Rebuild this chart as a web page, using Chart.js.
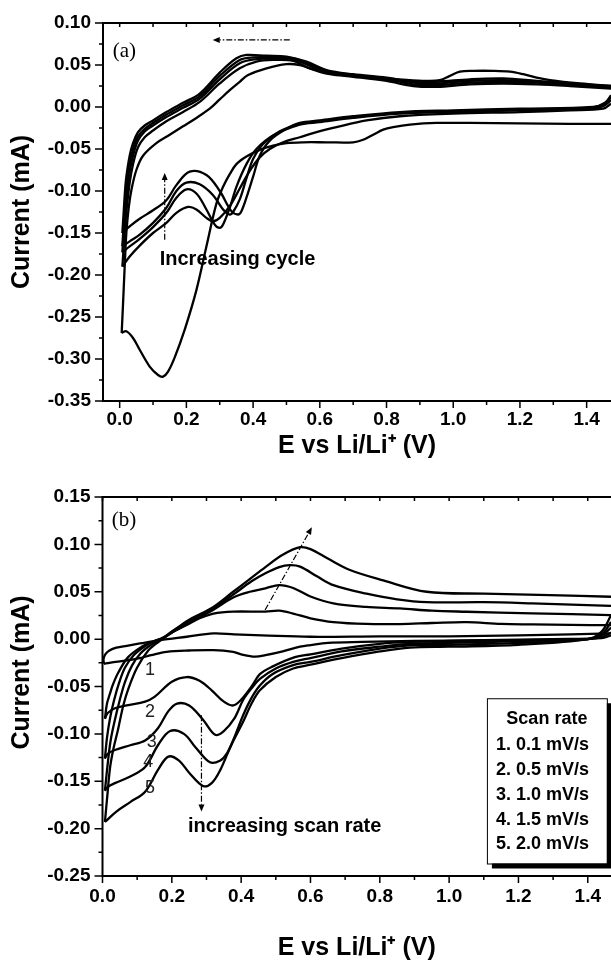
<!DOCTYPE html>
<html>
<head>
<meta charset="utf-8">
<script src="https://cdn.jsdelivr.net/npm/chart.js@4.4.1/dist/chart.umd.min.js"></script>
<style>
  html, body { margin: 0; padding: 0; background: #fff; overflow: hidden; }
  #panelA { position: absolute; left: 0; top: 0; }
  #panelB { position: absolute; left: 0; top: 470px; }
</style>
</head>
<body>
<canvas id="panelA" width="611" height="470"></canvas>
<canvas id="panelB" width="611" height="491"></canvas>
<script>
// ---------------- Panel (a): repeated cycling, [E (V), I (mA)] ----------------
const xTicksA = [0.0, 0.2, 0.4, 0.6, 0.8, 1.0, 1.2, 1.4];
const yTicksA = [-0.35, -0.30, -0.25, -0.20, -0.15, -0.10, -0.05, 0.00, 0.05, 0.10];

// cycle 1
const cyc1Red = [[1.473,-0.020],[1.35,-0.020],[1.2,-0.0195],[1.05,-0.019],[0.95,-0.019],[0.87,-0.021],[0.82,-0.024],[0.79,-0.027],[0.76,-0.033],[0.73,-0.039],[0.70,-0.042],[0.62,-0.042],[0.55,-0.042],[0.50,-0.043],[0.46,-0.046],[0.42,-0.051],[0.38,-0.059],[0.35,-0.068],[0.33,-0.080],[0.31,-0.095],[0.29,-0.115],[0.26,-0.166],[0.23,-0.218],[0.195,-0.265],[0.165,-0.298],[0.145,-0.315],[0.13,-0.321],[0.115,-0.319],[0.09,-0.309],[0.06,-0.289],[0.04,-0.275],[0.02,-0.267],[0.006,-0.269]];
const cyc1Ox = [[0.006,-0.269],[0.010,-0.235],[0.015,-0.190],[0.020,-0.150],[0.027,-0.120],[0.035,-0.099],[0.05,-0.075],[0.07,-0.058],[0.11,-0.043],[0.15,-0.033],[0.19,-0.023],[0.23,-0.013],[0.27,-0.002],[0.30,0.009],[0.33,0.020],[0.36,0.030],[0.385,0.038],[0.44,0.046],[0.50,0.051],[0.54,0.050],[0.57,0.046],[0.64,0.040],[0.70,0.037],[0.80,0.034],[0.87,0.032],[0.93,0.031],[0.96,0.032],[0.99,0.037],[1.02,0.042],[1.06,0.043],[1.12,0.043],[1.17,0.042],[1.21,0.039],[1.25,0.035],[1.29,0.032],[1.38,0.028],[1.473,0.025]];
// cycles 2-5
const cyc2Red = [[1.473,0.004],[1.45,-0.002],[1.35,-0.004],[1.2,-0.006],[1.0,-0.008],[0.84,-0.011],[0.74,-0.016],[0.65,-0.024],[0.58,-0.031],[0.54,-0.036],[0.49,-0.042],[0.45,-0.050],[0.42,-0.060],[0.39,-0.076],[0.36,-0.097],[0.33,-0.118],[0.30,-0.132],[0.28,-0.136],[0.26,-0.132],[0.23,-0.122],[0.205,-0.119],[0.17,-0.126],[0.14,-0.138],[0.10,-0.150],[0.06,-0.165],[0.03,-0.178],[0.008,-0.190]];
const cyc2Ox = [[0.008,-0.190],[0.012,-0.168],[0.016,-0.145],[0.020,-0.125],[0.030,-0.090],[0.040,-0.068],[0.055,-0.048],[0.075,-0.036],[0.10,-0.028],[0.14,-0.017],[0.19,-0.006],[0.24,0.006],[0.30,0.028],[0.36,0.046],[0.41,0.054],[0.46,0.056],[0.52,0.055],[0.57,0.046],[0.63,0.039],[0.70,0.036],[0.80,0.031],[0.88,0.025],[0.95,0.024],[1.05,0.027],[1.15,0.028],[1.25,0.027],[1.35,0.025],[1.473,0.022]];
const cyc3Red = [[1.473,0.008],[1.45,0.001],[1.40,-0.002],[1.2,-0.004],[1.0,-0.006],[0.84,-0.008],[0.70,-0.013],[0.60,-0.018],[0.54,-0.021],[0.46,-0.034],[0.41,-0.050],[0.38,-0.068],[0.35,-0.095],[0.33,-0.120],[0.31,-0.140],[0.30,-0.144],[0.285,-0.140],[0.26,-0.122],[0.23,-0.103],[0.20,-0.098],[0.17,-0.108],[0.14,-0.126],[0.10,-0.143],[0.06,-0.157],[0.03,-0.166],[0.008,-0.173]];
const cyc3Ox = [[0.008,-0.173],[0.012,-0.150],[0.016,-0.125],[0.020,-0.108],[0.030,-0.077],[0.040,-0.058],[0.055,-0.040],[0.075,-0.029],[0.10,-0.022],[0.14,-0.012],[0.19,-0.001],[0.24,0.010],[0.30,0.033],[0.36,0.052],[0.41,0.057],[0.46,0.058],[0.52,0.057],[0.57,0.049],[0.63,0.041],[0.70,0.037],[0.80,0.033],[0.88,0.027],[0.95,0.026],[1.05,0.029],[1.15,0.030],[1.25,0.029],[1.35,0.026],[1.473,0.023]];
const cyc4Red = [[1.473,0.011],[1.45,0.003],[1.40,-0.001],[1.2,-0.003],[1.0,-0.005],[0.84,-0.007],[0.70,-0.012],[0.60,-0.017],[0.54,-0.020],[0.48,-0.029],[0.43,-0.044],[0.40,-0.062],[0.38,-0.085],[0.36,-0.110],[0.34,-0.125],[0.33,-0.128],[0.31,-0.122],[0.28,-0.105],[0.24,-0.092],[0.20,-0.090],[0.17,-0.100],[0.14,-0.120],[0.10,-0.138],[0.06,-0.152],[0.03,-0.160],[0.008,-0.166]];
const cyc4Ox = [[0.008,-0.166],[0.012,-0.140],[0.016,-0.115],[0.020,-0.097],[0.030,-0.068],[0.040,-0.050],[0.055,-0.035],[0.075,-0.026],[0.10,-0.019],[0.14,-0.009],[0.19,0.002],[0.24,0.013],[0.30,0.037],[0.36,0.056],[0.40,0.059],[0.46,0.059],[0.52,0.058],[0.57,0.051],[0.63,0.042],[0.70,0.038],[0.80,0.034],[0.88,0.029],[0.95,0.028],[1.05,0.031],[1.15,0.032],[1.25,0.030],[1.35,0.027],[1.473,0.024]];
const cyc5Red = [[1.473,0.014],[1.455,0.005],[1.42,0.000],[1.2,-0.002],[1.0,-0.004],[0.84,-0.006],[0.70,-0.011],[0.60,-0.016],[0.54,-0.019],[0.50,-0.026],[0.45,-0.040],[0.42,-0.058],[0.40,-0.083],[0.38,-0.108],[0.365,-0.124],[0.355,-0.128],[0.335,-0.124],[0.30,-0.100],[0.26,-0.081],[0.21,-0.077],[0.17,-0.093],[0.14,-0.111],[0.10,-0.123],[0.06,-0.133],[0.03,-0.142],[0.008,-0.150]];
const cyc5Ox = [[0.008,-0.150],[0.012,-0.125],[0.016,-0.100],[0.020,-0.083],[0.030,-0.058],[0.040,-0.043],[0.055,-0.030],[0.075,-0.022],[0.10,-0.016],[0.14,-0.006],[0.19,0.005],[0.24,0.016],[0.30,0.041],[0.35,0.058],[0.38,0.062],[0.44,0.061],[0.50,0.060],[0.56,0.054],[0.62,0.044],[0.70,0.039],[0.80,0.035],[0.88,0.030],[0.95,0.030],[1.05,0.033],[1.15,0.034],[1.25,0.031],[1.35,0.028],[1.473,0.025]];

// ---------------- Panel (b): scan-rate series, [E (V), I (mA)] ----------------
const xTicksB = [0.0, 0.2, 0.4, 0.6, 0.8, 1.0, 1.2, 1.4];
const yTicksB = [-0.25, -0.20, -0.15, -0.10, -0.05, 0.00, 0.05, 0.10, 0.15];
const scanRates = ['0.1', '0.5', '1.0', '1.5', '2.0'];   // mV/s
const legendTitle = 'Scan rate';

const rate1Red = [[1.467,0.004],[1.44,0.001],[1.3,0.000],[1.1,-0.001],[0.9,-0.002],[0.75,-0.003],[0.65,-0.004],[0.60,-0.0063],[0.57,-0.008],[0.52,-0.013],[0.47,-0.017],[0.44,-0.0185],[0.40,-0.016],[0.377,-0.0134],[0.32,-0.0116],[0.25,-0.012],[0.185,-0.0134],[0.14,-0.017],[0.108,-0.020],[0.06,-0.023],[0.02,-0.025],[0.004,-0.026]];
const rate1Ox = [[0.004,-0.026],[0.003,-0.021],[0.008,-0.016],[0.02,-0.012],[0.04,-0.009],[0.07,-0.007],[0.108,-0.0046],[0.166,-0.001],[0.243,0.0025],[0.32,0.006],[0.38,0.005],[0.46,0.004],[0.60,0.0025],[0.80,0.003],[1.0,0.003],[1.2,0.004],[1.35,0.005],[1.467,0.006]];
const rate2Red = [[1.467,0.007],[1.44,0.002],[1.40,0.000],[1.2,-0.001],[1.0,-0.002],[0.887,-0.003],[0.80,-0.005],[0.69,-0.010],[0.60,-0.016],[0.555,-0.019],[0.49,-0.029],[0.454,-0.037],[0.43,-0.050],[0.40,-0.064],[0.377,-0.070],[0.35,-0.066],[0.315,-0.054],[0.28,-0.044],[0.243,-0.040],[0.20,-0.045],[0.15,-0.061],[0.123,-0.066],[0.07,-0.070],[0.036,-0.073],[0.015,-0.078],[0.007,-0.084]];
const rate2Ox = [[0.007,-0.084],[0.013,-0.068],[0.022,-0.057],[0.030,-0.048],[0.046,-0.035],[0.074,-0.019],[0.113,-0.008],[0.142,-0.003],[0.17,0.001],[0.20,0.007],[0.243,0.015],[0.28,0.022],[0.32,0.027],[0.377,0.029],[0.47,0.029],[0.51,0.030],[0.55,0.027],[0.60,0.022],[0.666,0.018],[0.76,0.016],[0.858,0.0159],[0.95,0.017],[1.05,0.018],[1.15,0.016],[1.24,0.0155],[1.35,0.015],[1.467,0.0148]];
const rate3Red = [[1.467,0.012],[1.44,0.004],[1.40,0.000],[1.2,-0.002],[1.0,-0.004],[0.887,-0.005],[0.80,-0.008],[0.69,-0.013],[0.60,-0.020],[0.55,-0.024],[0.50,-0.031],[0.454,-0.042],[0.43,-0.052],[0.406,-0.064],[0.38,-0.084],[0.35,-0.097],[0.325,-0.101],[0.29,-0.085],[0.25,-0.070],[0.215,-0.068],[0.19,-0.076],[0.16,-0.094],[0.123,-0.107],[0.08,-0.112],[0.036,-0.117],[0.015,-0.121],[0.007,-0.126]];
const rate3Ox = [[0.007,-0.126],[0.013,-0.104],[0.022,-0.083],[0.033,-0.065],[0.048,-0.046],[0.065,-0.030],[0.09,-0.017],[0.12,-0.008],[0.15,-0.002],[0.175,0.001],[0.20,0.007],[0.243,0.016],[0.32,0.031],[0.377,0.044],[0.425,0.050],[0.47,0.0536],[0.51,0.057],[0.55,0.054],[0.60,0.045],[0.666,0.0377],[0.76,0.034],[0.858,0.0324],[0.95,0.030],[1.05,0.0289],[1.24,0.0272],[1.467,0.0254]];
const rate4Red = [[1.467,0.018],[1.44,0.005],[1.40,0.000],[1.2,-0.004],[1.0,-0.006],[0.887,-0.0065],[0.80,-0.010],[0.69,-0.017],[0.60,-0.024],[0.55,-0.0275],[0.49,-0.037],[0.454,-0.049],[0.43,-0.062],[0.406,-0.080],[0.38,-0.104],[0.36,-0.120],[0.34,-0.128],[0.31,-0.130],[0.27,-0.115],[0.235,-0.100],[0.195,-0.097],[0.16,-0.112],[0.123,-0.135],[0.08,-0.145],[0.036,-0.152],[0.015,-0.156],[0.007,-0.160]];
const rate4Ox = [[0.007,-0.160],[0.014,-0.135],[0.023,-0.108],[0.034,-0.088],[0.05,-0.064],[0.065,-0.045],[0.085,-0.028],[0.11,-0.015],[0.14,-0.006],[0.17,0.000],[0.20,0.008],[0.243,0.018],[0.32,0.033],[0.377,0.047],[0.43,0.061],[0.47,0.0695],[0.51,0.076],[0.54,0.078],[0.57,0.0765],[0.62,0.066],[0.666,0.057],[0.762,0.048],[0.85,0.042],[0.935,0.039],[1.1,0.039],[1.24,0.0377],[1.467,0.035]];
const rate5Red = [[1.467,0.025],[1.44,0.008],[1.40,0.000],[1.2,-0.006],[1.0,-0.008],[0.887,-0.009],[0.80,-0.013],[0.69,-0.020],[0.60,-0.027],[0.55,-0.031],[0.50,-0.040],[0.454,-0.054],[0.43,-0.068],[0.406,-0.087],[0.37,-0.113],[0.34,-0.138],[0.315,-0.152],[0.29,-0.155],[0.25,-0.141],[0.22,-0.128],[0.19,-0.124],[0.16,-0.138],[0.123,-0.161],[0.08,-0.172],[0.04,-0.182],[0.007,-0.193]];
const rate5Ox = [[0.007,-0.193],[0.014,-0.165],[0.022,-0.135],[0.032,-0.115],[0.045,-0.095],[0.06,-0.070],[0.075,-0.052],[0.10,-0.030],[0.132,-0.012],[0.161,-0.003],[0.20,0.007],[0.243,0.019],[0.32,0.034],[0.377,0.050],[0.42,0.062],[0.47,0.076],[0.52,0.089],[0.57,0.097],[0.60,0.095],[0.65,0.085],[0.714,0.073],[0.81,0.062],[0.935,0.050],[1.1,0.048],[1.29,0.0465],[1.467,0.0447]];

// ---------------- drawing ----------------
const SANS = "'Liberation Sans', Arial, Helvetica, sans-serif";
const SERIF = "'Liberation Serif', 'Times New Roman', serif";

function toPoints(pairs) { return pairs.map(p => ({ x: p[0], y: p[1] })); }
function traces(list) {
  return list.map(pairs => ({
    data: toPoints(pairs), showLine: true, borderColor: '#000', borderWidth: 2.3,
    pointRadius: 0, tension: 0.35, fill: false
  }));
}

// Axis frame with outward major/minor ticks (bottom, left) and inward ticks on the top edge
const framePlugin = {
  id: 'frame',
  afterDatasetsDraw(chart) {
    const { ctx, chartArea: ca, scales: { x, y } } = chart;
    ctx.save();
    ctx.strokeStyle = '#000';
    ctx.lineWidth = 2;
    ctx.beginPath();
    ctx.moveTo(ca.left, ca.top); ctx.lineTo(ca.right + 2, ca.top);
    ctx.moveTo(ca.left, ca.top - 1); ctx.lineTo(ca.left, ca.bottom + 1);
    ctx.moveTo(ca.left - 1, ca.bottom); ctx.lineTo(ca.right + 2, ca.bottom);
    ctx.stroke();
    ctx.lineWidth = 1.5;
    ctx.beginPath();
    const xv = x.ticks.map(t => t.value);
    const xs = xv[1] - xv[0];
    xv.forEach(v => {
      const p = x.getPixelForValue(v);
      ctx.moveTo(p, ca.bottom); ctx.lineTo(p, ca.bottom + 7);
      ctx.moveTo(p, ca.top); ctx.lineTo(p, ca.top + 4);
      const m = v + xs / 2;
      if (m < x.max) {
        const q = x.getPixelForValue(m);
        ctx.moveTo(q, ca.bottom); ctx.lineTo(q, ca.bottom + 4);
        ctx.moveTo(q, ca.top); ctx.lineTo(q, ca.top + 4);
      }
    });
    const yv = y.ticks.map(t => t.value);
    yv.forEach((v, i) => {
      const p = y.getPixelForValue(v);
      ctx.moveTo(ca.left, p); ctx.lineTo(ca.left - 8, p);
      if (i < yv.length - 1) {
        const q = y.getPixelForValue((v + yv[i + 1]) / 2);
        ctx.moveTo(ca.left, q); ctx.lineTo(ca.left - 4, q);
      }
    });
    ctx.stroke();
    ctx.restore();
  }
};

function drawArrow(ctx, x1, y1, x2, y2) {
  const a = Math.atan2(y2 - y1, x2 - x1);
  const L = 7, W = 3;
  const bx = x2 - L * Math.cos(a), by = y2 - L * Math.sin(a);
  ctx.save();
  ctx.strokeStyle = '#000';
  ctx.lineWidth = 1.2;
  ctx.setLineDash([6, 2, 1.5, 2]);
  ctx.beginPath(); ctx.moveTo(x1, y1); ctx.lineTo(bx, by); ctx.stroke();
  ctx.setLineDash([]);
  ctx.fillStyle = '#000';
  ctx.beginPath();
  ctx.moveTo(x2, y2);
  ctx.lineTo(bx + W * Math.sin(a), by - W * Math.cos(a));
  ctx.lineTo(bx - W * Math.sin(a), by + W * Math.cos(a));
  ctx.closePath(); ctx.fill();
  ctx.restore();
}

// Panel labels, trend arrows, curve numbers and the scan-rate key
function notesPlugin(spec) {
  return {
    id: 'notes',
    afterDraw(chart) {
      const { ctx, chartArea: ca, scales: { x, y } } = chart;
      const px = v => x.getPixelForValue(v), py = v => y.getPixelForValue(v);
      ctx.save();
      spec.arrows.forEach(a => drawArrow(ctx, px(a.from[0]), py(a.from[1]), px(a.to[0]), py(a.to[1])));
      if (spec.key) {
        const k = spec.key;
        const l = px(k.x0), r = px(k.x1), t = py(k.y0), b = py(k.y1);
        ctx.fillStyle = '#000'; ctx.fillRect(l + 5, t + 5, r - l, b - t);
        ctx.fillStyle = '#fff'; ctx.fillRect(l, t, r - l, b - t);
        ctx.strokeStyle = '#000'; ctx.lineWidth = 1; ctx.strokeRect(l + 0.5, t + 0.5, r - l, b - t);
        ctx.fillStyle = '#000';
        ctx.font = `bold 18px ${SANS}`;
        ctx.textBaseline = 'middle';
        ctx.textAlign = 'center';
        ctx.fillText(legendTitle, (l + r) / 2, t + 21);
        ctx.textAlign = 'left';
        scanRates.forEach((s, i) => ctx.fillText(`${i + 1}. ${s} mV/s`, l + 9, t + 47 + i * 24.8));
      }
      spec.texts.forEach(tx => {
        ctx.font = tx.font;
        ctx.fillStyle = tx.color || '#000';
        ctx.textAlign = tx.align || 'left';
        ctx.textBaseline = 'middle';
        ctx.fillText(tx.text, px(tx.x), py(tx.y));
      });
      if (spec.yTitle) {
        ctx.save();
        ctx.translate(22.5, (ca.top + ca.bottom) / 2 - 14);
        ctx.rotate(-Math.PI / 2);
        ctx.font = `bold 25px ${SANS}`;
        ctx.fillStyle = '#000';
        ctx.textAlign = 'center';
        ctx.textBaseline = 'middle';
        ctx.fillText(spec.yTitle, 0, 0);
        ctx.restore();
      }
      ctx.restore();
    }
  };
}

function makeChart(id, o) {
  const tickFont = { family: SANS, size: 19, weight: 'bold' };
  const titleFont = { family: SANS, size: 25, weight: 'bold', lineHeight: 1 };
  return new Chart(document.getElementById(id), {
    type: 'scatter',
    data: { datasets: traces(o.series) },
    options: {
      responsive: false,
      animation: false,
      events: [],
      layout: { padding: { top: o.padTop, left: 0, right: 0, bottom: 0 } },
      plugins: { legend: { display: false }, tooltip: { enabled: false } },
      scales: {
        x: {
          type: 'linear', min: o.xMin, max: o.xMax,
          afterBuildTicks: s => { s.ticks = o.xTicks.map(v => ({ value: v })); },
          afterFit: s => { s.height = o.xHeight; },
          grid: { display: true, drawOnChartArea: false, drawTicks: true, tickLength: 7, tickColor: 'rgba(0,0,0,0)' },
          border: { display: false },
          ticks: { font: tickFont, color: '#000', padding: o.xPad, autoSkip: false, maxRotation: 0,
                   callback: v => v.toFixed(1) },
          title: { display: true, text: 'E vs Li/Li\u207A (V)', font: titleFont, color: '#000',
                   padding: { top: 0, bottom: o.xTitlePad } }
        },
        y: {
          type: 'linear', min: o.yMin, max: o.yMax,
          afterBuildTicks: s => { s.ticks = o.yTicks.map(v => ({ value: v })); },
          afterFit: s => { s.width = o.yWidth; },
          grid: { display: true, drawOnChartArea: false, drawTicks: true, tickLength: 6, tickColor: 'rgba(0,0,0,0)' },
          border: { display: false },
          ticks: { font: tickFont, color: '#000', padding: 6, autoSkip: false,
                   callback: v => v.toFixed(2) },
          title: { display: o.yTitleBuiltIn, text: 'Current (mA)', font: titleFont, color: '#000',
                   padding: { top: 10, bottom: 0 } }
        }
      }
    },
    plugins: [framePlugin, notesPlugin(o.notes)]
  });
}

makeChart('panelA', {
  series: [cyc1Red, cyc1Ox, cyc2Red, cyc2Ox, cyc3Red, cyc3Ox, cyc4Red, cyc4Ox, cyc5Red, cyc5Ox],
  xMin: -0.05, xMax: 1.473, yMin: -0.35, yMax: 0.10,
  xTicks: xTicksA, yTicks: yTicksA,
  padTop: 23, xHeight: 69, yWidth: 103, xPad: 0, xTitlePad: 11.5, yTitleBuiltIn: true,
  notes: {
    arrows: [
      { from: [0.51, 0.0798], to: [0.279, 0.0798] },
      { from: [0.135, -0.158], to: [0.135, -0.0786] }
    ],
    texts: [
      { text: '(a)', x: -0.021, y: 0.0655, font: `21px ${SERIF}` },
      { text: 'Increasing cycle', x: 0.12, y: -0.181, font: `bold 20px ${SANS}` }
    ]
  }
});

makeChart('panelB', {
  series: [rate1Red, rate1Ox, rate2Red, rate2Ox, rate3Red, rate3Ox, rate4Red, rate4Ox, rate5Red, rate5Ox],
  xMin: 0, xMax: 1.467, yMin: -0.25, yMax: 0.15,
  xTicks: xTicksB, yTicks: yTicksB,
  padTop: 27, xHeight: 85, yWidth: 102.5, xPad: 2, xTitlePad: 0, yTitleBuiltIn: false,
  notes: {
    yTitle: 'Current (mA)',
    arrows: [
      { from: [0.469, 0.0307], to: [0.604, 0.118] },
      { from: [0.2855, -0.0803], to: [0.2855, -0.182] }
    ],
    key: { x0: 1.109, x1: 1.455, y0: -0.0624, y1: -0.2368 },
    texts: [
      { text: '(b)', x: 0.027, y: 0.1247, font: `21px ${SERIF}` },
      { text: 'increasing scan rate', x: 0.2466, y: -0.1977, font: `bold 20px ${SANS}` },
      { text: '1', x: 0.137, y: -0.0328, font: `18px ${SANS}`, color: '#222', align: 'center' },
      { text: '2', x: 0.137, y: -0.0768, font: `18px ${SANS}`, color: '#222', align: 'center' },
      { text: '3', x: 0.142, y: -0.1086, font: `18px ${SANS}`, color: '#222', align: 'center' },
      { text: '4', x: 0.132, y: -0.1297, font: `18px ${SANS}`, color: '#222', align: 'center' },
      { text: '5', x: 0.137, y: -0.1575, font: `18px ${SANS}`, color: '#222', align: 'center' }
    ]
  }
});
</script>
</body>
</html>
